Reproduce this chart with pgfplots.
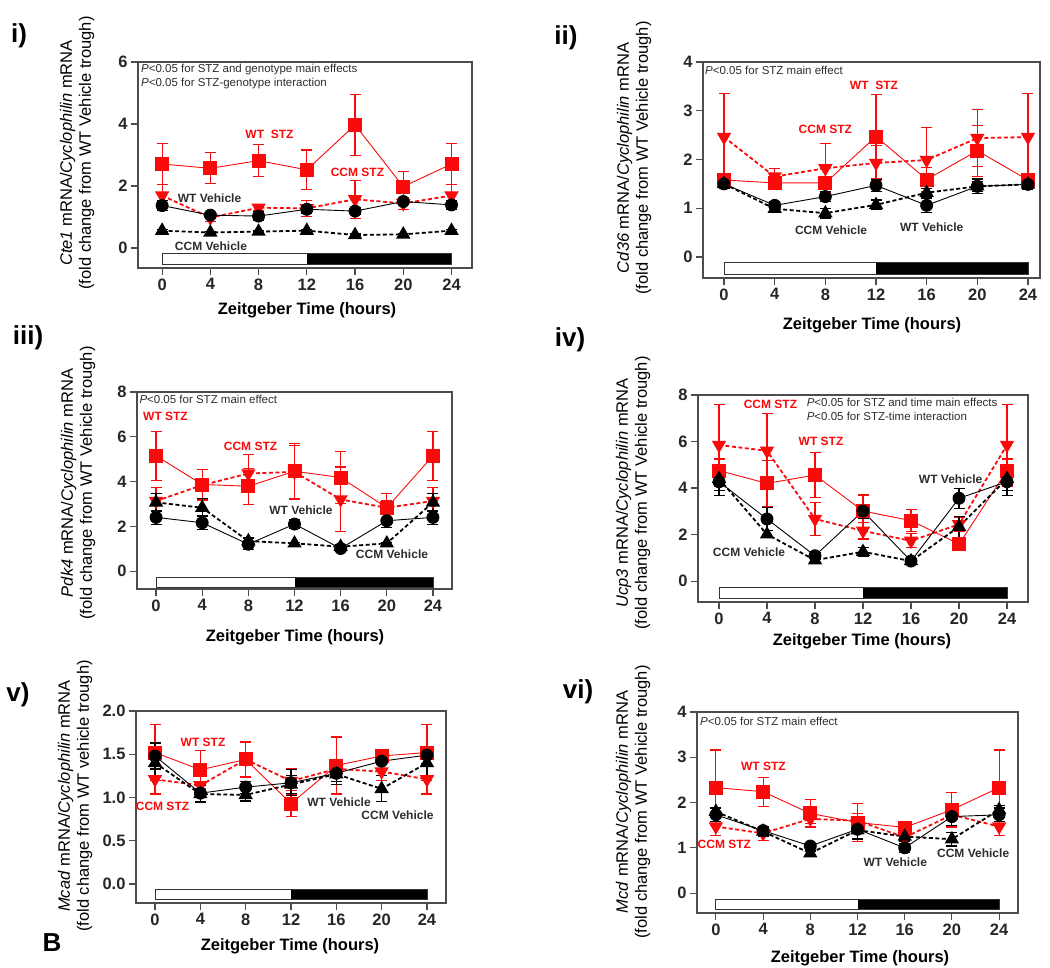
\documentclass[border=0pt]{standalone}
\usepackage{fontspec}
\setmainfont{Liberation Sans}
\usepackage{pgfplots}
\pgfplotsset{compat=1.18}
\definecolor{myred}{RGB}{250,10,10}
\definecolor{txt}{RGB}{45,45,45}
\newcommand\tickf{\bfseries\fontsize{16.5}{18}\selectfont}
\newcommand\labf{\bfseries\fontsize{12}{13}\selectfont}
\newcommand\pf{\fontsize{11.5}{13}\selectfont}
\newcommand\ylf{\fontsize{16.5}{19}\selectfont}
\newcommand\xtf{\bfseries\fontsize{16.5}{18}\selectfont}
\newcommand\panf{\bfseries\fontsize{26}{28}\selectfont}
\pgfplotsset{
 panel/.style={scale only axis, clip=false,
   axis line style={draw=black!70, line width=1.1pt},
   tick style={draw=black!70, line width=1.1pt}, major tick length=7pt, tick align=outside,
   xtick pos=left, ytick pos=left, xtick={0,4,...,24},
   tick label style={font=\tickf, text=black!85},
   /pgf/number format/assume math mode=true},
 errs/.style={error bars/y dir=both, error bars/y explicit,
   error bars/error bar style={line width=1.1pt, solid},
   error bars/error mark options={rotate=90, mark size=5.5pt, line width=1.1pt, solid}},
 wtstz/.style={color=myred, line width=0.9pt, mark=square*, mark size=6.5pt, mark options={solid}, errs},
 ccmstz/.style={color=myred, line width=1.8pt, dash pattern=on 4pt off 2.5pt, mark=triangle*, mark size=6.5pt, mark options={solid, rotate=180}, errs},
 wtveh/.style={color=black, line width=0.9pt, mark=*, mark size=6pt, mark options={solid}, errs},
 ccmveh/.style={color=black, line width=1.8pt, dash pattern=on 4pt off 2.5pt, mark=triangle*, mark size=6.5pt, mark options={solid}, errs},
}
\newcommand\ldbar[2]{%
  \fill[white] (axis cs:0,#1) rectangle (axis cs:12,#2);
  \fill[black] (axis cs:12,#1) rectangle (axis cs:24,#2);
  \draw[black!80, line width=0.9pt] (axis cs:0,#1) rectangle (axis cs:24,#2);}
\begin{document}
\begin{tikzpicture}[x=1pt,y=1pt]
\useasboundingbox (0,0) rectangle (1050,-967);

% ---------------- panel i
\begin{axis}[panel, at={(138pt,-268pt)}, anchor=south west, width=334pt, height=206pt,
  xmin=-2, xmax=25.7, ymin=-0.645, ymax=6, ytick={0,2,4,6}]
\ldbar{-0.16}{-0.52}
\addplot[wtstz] coordinates {(0,2.71)+-(0,0.67) (4,2.57)+-(0,0.5) (8,2.82)+-(0,0.52) (12,2.52)+-(0,0.64) (16,3.97)+-(0,0.98) (20,1.98)+-(0,0.5) (24,2.71)+-(0,0.67)};
\addplot[ccmstz] coordinates {(0,1.69)+-(0,0.35) (4,0.98)+-(0,0.13) (8,1.3)+-(0,0.1) (12,1.28)+-(0,0.25) (16,1.57)+-(0,0.62) (20,1.44)+-(0,0.2) (24,1.69)+-(0,0.35)};
\addplot[ccmveh] coordinates {(0,0.56)+-(0,0.04) (4,0.5)+-(0,0.04) (8,0.53)+-(0,0.04) (12,0.56)+-(0,0.04) (16,0.42)+-(0,0.04) (20,0.44)+-(0,0.04) (24,0.56)+-(0,0.04)};
\addplot[wtveh] coordinates {(0,1.37)+-(0,0.15) (4,1.06)+-(0,0.08) (8,1.03)+-(0,0.15) (12,1.25)+-(0,0.12) (16,1.19)+-(0,0.12) (20,1.5)+-(0,0.1) (24,1.39)+-(0,0.15)};
\node[anchor=west, font=\pf, text=txt, inner sep=0] at (axis cs:-1.75,5.77) {\textit{P}<0.05 for STZ and genotype main effects};
\node[anchor=west, font=\pf, text=txt, inner sep=0] at (axis cs:-1.75,5.32) {\textit{P}<0.05 for STZ-genotype interaction};
\node[font=\labf, text=myred] at (axis cs:8.9,3.65) {WT\ \ STZ};
\node[font=\labf, text=myred] at (axis cs:16.2,2.44) {CCM STZ};
\node[font=\labf, text=txt] at (axis cs:3.93,1.61) {WT Vehicle};
\node[font=\labf, text=txt] at (axis cs:4.05,0.07) {CCM Vehicle};
\end{axis}

% ---------------- panel ii
\begin{axis}[panel, at={(703pt,-278pt)}, anchor=south west, width=337pt, height=216pt,
  xmin=-1.66, xmax=24.95, ymin=-0.43, ymax=4, ytick={0,1,2,3,4}]
\ldbar{-0.12}{-0.35}
\addplot[wtstz] coordinates {(0,1.58)+-(0,0.1) (4,1.52)+-(0,0.08) (8,1.52)+-(0,0.1) (12,2.47)+-(0,0.86) (16,1.59)+-(0,0.25) (20,2.18)+-(0,0.52) (24,1.58)+-(0,0.1)};
\addplot[ccmstz] coordinates {(0,2.46)+-(0,0.89) (4,1.65)+-(0,0.17) (8,1.82)+-(0,0.5) (12,1.93)+-(0,0.35) (16,1.99)+-(0,0.66) (20,2.44)+-(0,0.58) (24,2.46)+-(0,0.89)};
\addplot[ccmveh] coordinates {(0,1.5)+-(0,0.08) (4,0.99)+-(0,0.06) (8,0.9)+-(0,0.1) (12,1.07)+-(0,0.1) (16,1.32)+-(0,0.08) (20,1.45)+-(0,0.1) (24,1.49)+-(0,0.08)};
\addplot[wtveh] coordinates {(0,1.5)+-(0,0.1) (4,1.06)+-(0,0.07) (8,1.24)+-(0,0.1) (12,1.47)+-(0,0.12) (16,1.06)+-(0,0.15) (20,1.45)+-(0,0.15) (24,1.49)+-(0,0.1)};
\node[anchor=west, font=\pf, text=txt, inner sep=0] at (axis cs:-1.5,3.82) {\textit{P}<0.05 for STZ main effect};
\node[font=\labf, text=myred] at (axis cs:11.84,3.52) {WT\ \ STZ};
\node[font=\labf, text=myred] at (axis cs:8.0,2.61) {CCM STZ};
\node[font=\labf, text=txt] at (axis cs:8.45,0.55) {CCM Vehicle};
\node[font=\labf, text=txt] at (axis cs:16.4,0.62) {WT Vehicle};
\end{axis}

% ---------------- panel iii
\begin{axis}[panel, at={(137pt,-589pt)}, anchor=south west, width=315pt, height=197pt,
  xmin=-1.65, xmax=25.65, ymin=-0.8, ymax=8, ytick={0,2,4,6,8}]
\ldbar{-0.27}{-0.71}
\addplot[wtstz] coordinates {(0,5.15)+-(0,1.1) (4,3.87)+-(0,0.68) (8,3.79)+-(0,0.8) (12,4.46)+-(0,1.26) (16,4.18)+-(0,1.15) (20,2.83)+-(0,0.64) (24,5.15)+-(0,1.1)};
\addplot[ccmstz] coordinates {(0,3.13)+-(0,0.6) (4,3.84)+-(0,0.7) (8,4.36)+-(0,0.85) (12,4.43)+-(0,1.2) (16,3.2)+-(0,1.45) (20,2.83)+-(0,0.3) (24,3.13)+-(0,0.6)};
\addplot[ccmveh] coordinates {(0,3.07)+-(0,0.4) (4,2.83)+-(0,0.4) (8,1.34)+-(0,0.15) (12,1.24)+-(0,0.05) (16,1.09)+-(0,0.1) (20,1.24)+-(0,0.05) (24,3.07)+-(0,0.4)};
\addplot[wtveh] coordinates {(0,2.4)+-(0,0.3) (4,2.16)+-(0,0.3) (8,1.2)+-(0,0.25) (12,2.1)+-(0,0.2) (16,1.01)+-(0,0.15) (20,2.25)+-(0,0.3) (24,2.4)+-(0,0.3)};
\node[anchor=west, font=\pf, text=txt, inner sep=0] at (axis cs:-1.45,7.68) {\textit{P}<0.05 for STZ main effect};
\node[font=\labf, text=myred] at (axis cs:0.82,6.89) {WT STZ};
\node[font=\labf, text=myred] at (axis cs:8.19,5.58) {CCM STZ};
\node[font=\labf, text=txt] at (axis cs:12.56,2.72) {WT Vehicle};
\node[font=\labf, text=txt] at (axis cs:20.45,0.74) {CCM Vehicle};
\end{axis}

% ---------------- panel iv
\begin{axis}[panel, at={(698pt,-602pt)}, anchor=south west, width=330pt, height=207pt,
  xmin=-1.75, xmax=25.75, ymin=-0.9, ymax=8, ytick={0,2,4,6,8}]
\ldbar{-0.26}{-0.73}
\addplot[wtstz] coordinates {(0,4.75)+-(0,0.5) (4,4.2)+-(0,1.0) (8,4.56)+-(0,0.97) (12,3.01)+-(0,0.69) (16,2.6)+-(0,0.48) (20,1.59)+-(0,0.1) (24,4.75)+-(0,0.5)};
\addplot[ccmstz] coordinates {(0,5.85)+-(0,1.76) (4,5.6)+-(0,1.6) (8,2.67)+-(0,0.72) (12,2.16)+-(0,0.35) (16,1.73)+-(0,0.3) (20,2.44)+-(0,0.3) (24,5.85)+-(0,1.76)};
\addplot[ccmveh] coordinates {(0,4.4)+-(0,0.5) (4,2.01)+-(0,0.15) (8,0.9)+-(0,0.1) (12,1.26)+-(0,0.2) (16,0.86)+-(0,0.08) (20,2.34)+-(0,0.45) (24,4.4)+-(0,0.5)};
\addplot[wtveh] coordinates {(0,4.27)+-(0,0.6) (4,2.67)+-(0,0.5) (8,1.09)+-(0,0.15) (12,3.01)+-(0,0.3) (16,0.86)+-(0,0.1) (20,3.56)+-(0,0.43) (24,4.27)+-(0,0.6)};
\node[anchor=west, font=\pf, text=txt, inner sep=0] at (axis cs:7.3,7.7) {\textit{P}<0.05 for STZ and time main effects};
\node[anchor=west, font=\pf, text=txt, inner sep=0] at (axis cs:7.3,7.1) {\textit{P}<0.05 for STZ-time interaction};
\node[font=\labf, text=myred] at (axis cs:4.29,7.6) {CCM STZ};
\node[font=\labf, text=myred] at (axis cs:8.5,6.02) {WT STZ};
\node[font=\labf, text=txt] at (axis cs:19.3,4.37) {WT Vehicle};
\node[font=\labf, text=txt] at (axis cs:2.5,1.22) {CCM Vehicle};
\end{axis}

% ---------------- panel v
\begin{axis}[panel, at={(136pt,-903pt)}, anchor=south west, width=310pt, height=192pt,
  xmin=-1.68, xmax=25.68, ymin=-0.22, ymax=2.0, ytick={0,0.5,1,1.5,2},
  yticklabel style={/pgf/number format/.cd, fixed, fixed zerofill, precision=1}]
\ldbar{-0.06}{-0.18}
\addplot[wtstz] coordinates {(0,1.52)+-(0,0.32) (4,1.32)+-(0,0.22) (8,1.44)+-(0,0.21) (12,0.93)+-(0,0.15) (16,1.37)+-(0,0.33) (20,1.48)+-(0,0.08) (24,1.52)+-(0,0.32)};
\addplot[ccmstz] coordinates {(0,1.21)+-(0,0.17) (4,1.14)+-(0,0.1) (8,1.44)+-(0,0.2) (12,1.19)+-(0,0.15) (16,1.33)+-(0,0.1) (20,1.3)+-(0,0.1) (24,1.21)+-(0,0.17)};
\addplot[ccmveh] coordinates {(0,1.4)+-(0,0.15) (4,1.04)+-(0,0.1) (8,1.03)+-(0,0.07) (12,1.15)+-(0,0.1) (16,1.27)+-(0,0.12) (20,1.1)+-(0,0.15) (24,1.4)+-(0,0.15)};
\addplot[wtveh] coordinates {(0,1.48)+-(0,0.15) (4,1.05)+-(0,0.1) (8,1.12)+-(0,0.07) (12,1.17)+-(0,0.15) (16,1.28)+-(0,0.1) (20,1.42)+-(0,0.1) (24,1.49)+-(0,0.1)};
\node[font=\labf, text=myred] at (axis cs:4.24,1.64) {WT STZ};
\node[font=\labf, text=myred] at (axis cs:0.66,0.9) {CCM STZ};
\node[font=\labf, text=txt] at (axis cs:16.24,0.94) {WT Vehicle};
\node[font=\labf, text=txt] at (axis cs:21.4,0.79) {CCM Vehicle};
\end{axis}

% ---------------- panel vi
\begin{axis}[panel, at={(697pt,-913pt)}, anchor=south west, width=321pt, height=201pt,
  xmin=-1.6, xmax=25.6, ymin=-0.44, ymax=4, ytick={0,1,2,3,4}]
\ldbar{-0.13}{-0.37}
\addplot[wtstz] coordinates {(0,2.33)+-(0,0.83) (4,2.24)+-(0,0.32) (8,1.76)+-(0,0.3) (12,1.56)+-(0,0.42) (16,1.45)+-(0,0.05) (20,1.84)+-(0,0.38) (24,2.33)+-(0,0.83)};
\addplot[ccmstz] coordinates {(0,1.47)+-(0,0.2) (4,1.32)+-(0,0.15) (8,1.64)+-(0,0.1) (12,1.6)+-(0,0.15) (16,1.23)+-(0,0.1) (20,1.73)+-(0,0.1) (24,1.47)+-(0,0.2)};
\addplot[ccmveh] coordinates {(0,1.8)+-(0,0.1) (4,1.36)+-(0,0.1) (8,0.88)+-(0,0.05) (12,1.39)+-(0,0.2) (16,1.25)+-(0,0.1) (20,1.19)+-(0,0.15) (24,1.84)+-(0,0.1)};
\addplot[wtveh] coordinates {(0,1.73)+-(0,0.15) (4,1.38)+-(0,0.1) (8,1.04)+-(0,0.05) (12,1.41)+-(0,0.2) (16,1.0)+-(0,0.1) (20,1.69)+-(0,0.2) (24,1.73)+-(0,0.15)};
\node[anchor=west, font=\pf, text=txt, inner sep=0] at (axis cs:-1.35,3.8) {\textit{P}<0.05 for STZ main effect};
\node[font=\labf, text=myred] at (axis cs:4.03,2.79) {WT STZ};
\node[font=\labf, text=myred] at (axis cs:0.72,1.08) {CCM STZ};
\node[font=\labf, text=txt] at (axis cs:15.2,0.68) {WT Vehicle};
\node[font=\labf, text=txt] at (axis cs:21.8,0.88) {CCM Vehicle};
\end{axis}

% ---------------- y labels
\node[rotate=90, align=center, font=\ylf] at (77,-153) {\textit{Cte1} mRNA/\textit{Cyclophilin} mRNA\\(fold change from WT Vehicle trough)};
\node[rotate=90, align=center, font=\ylf] at (634,-158) {\textit{Cd36} mRNA/\textit{Cyclophilin} mRNA\\(fold change from WT Vehicle trough)};
\node[rotate=90, align=center, font=\ylf] at (78,-483) {\textit{Pdk4} mRNA/\textit{Cyclophilin} mRNA\\(fold change from WT Vehicle trough)};
\node[rotate=90, align=center, font=\ylf] at (633,-493) {\textit{Ucp3} mRNA/\textit{Cyclophilin} mRNA\\(fold change from WT Vehicle trough)};
\node[rotate=90, align=center, font=\ylf] at (75,-796) {\textit{Mcad} mRNA/\textit{Cyclophilin} mRNA\\(fold change from WT vehicle trough)};
\node[rotate=90, align=center, font=\ylf] at (633,-802) {\textit{Mcd} mRNA/\textit{Cyclophilin} mRNA\\(fold change from WT Vehicle trough)};
% ---------------- x titles
\node[font=\xtf] at (307,-310) {Zeitgeber Time (hours)};
\node[font=\xtf] at (872,-325) {Zeitgeber Time (hours)};
\node[font=\xtf] at (295,-637) {Zeitgeber Time (hours)};
\node[font=\xtf] at (862,-641) {Zeitgeber Time (hours)};
\node[font=\xtf] at (290,-946) {Zeitgeber Time (hours)};
\node[font=\xtf] at (860,-958) {Zeitgeber Time (hours)};
% ---------------- panel labels
\node[font=\panf] at (19,-36) {i)};
\node[font=\panf] at (566,-38) {ii)};
\node[font=\panf] at (28,-338) {iii)};
\node[font=\panf] at (570,-340) {iv)};
\node[font=\panf] at (18,-695) {v)};
\node[font=\panf] at (578,-692) {vi)};
\node[font=\panf] at (52,-943) {B};
\end{tikzpicture}
\end{document}
